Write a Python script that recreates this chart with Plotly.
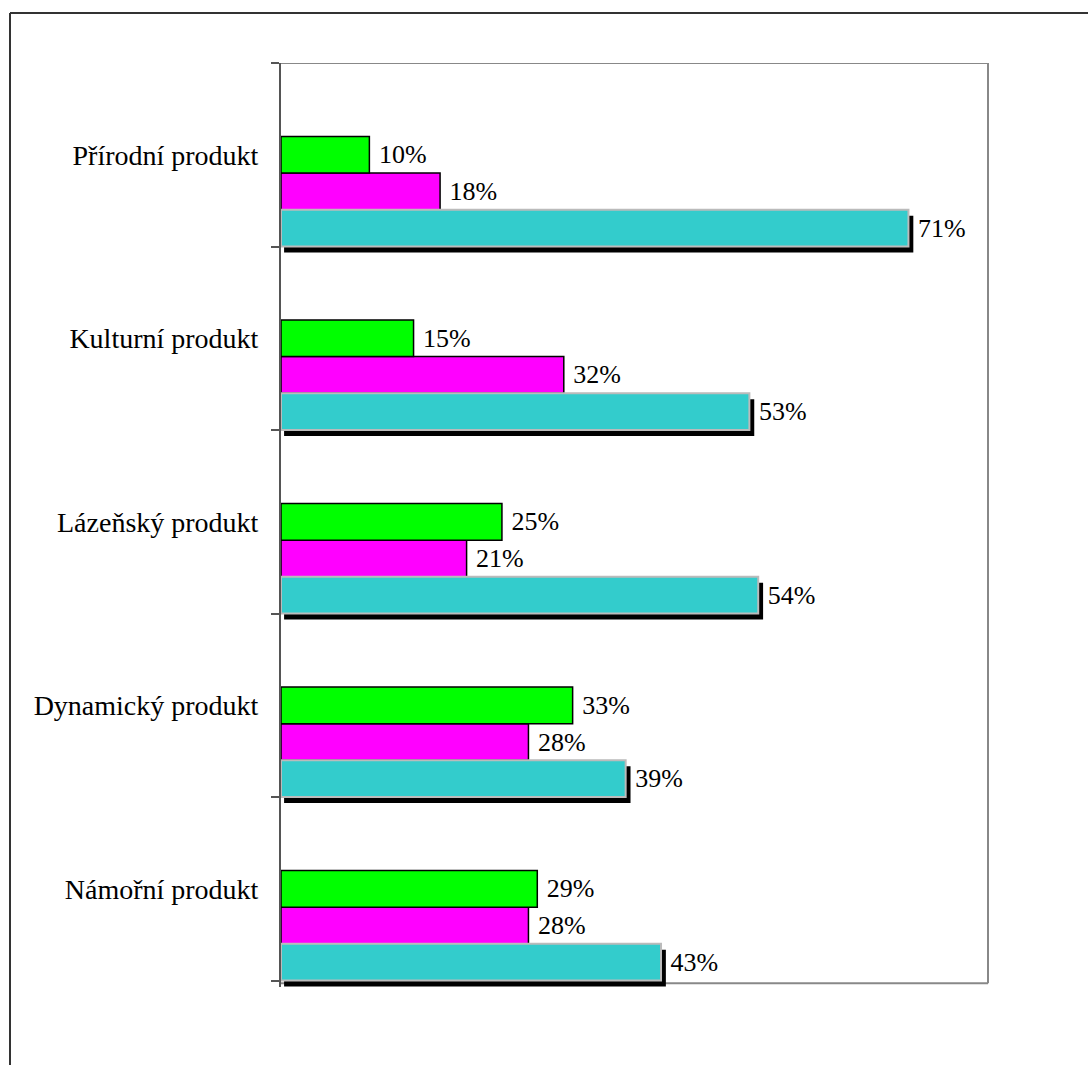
import plotly.graph_objects as go

categories = ["Přírodní produkt", "Kulturní produkt", "Lázeňský produkt",
              "Dynamický produkt", "Námořní produkt"]
green_vals = [10, 15, 25, 33, 29]
magenta_vals = [18, 32, 21, 28, 28]
cyan_vals = [71, 53, 54, 39, 43]

W, H = 1088, 1065
L, R, T, B = 281, 100, 63, 78
FONT = "Liberation Serif, Times New Roman, serif"
FS = 26
FS_CAT = 28

pos = list(range(len(categories)))
bw = 0.2
SDX = 0.55   # shadow offset in x (percent units)
SDY = 0.032  # shadow offset in y (category units)

fig = go.Figure()
fig.add_trace(go.Bar(
    y=[p + 0.2 for p in pos], x=magenta_vals, orientation="h", width=bw,
    marker=dict(color="#FF00FF", line=dict(color="black", width=1.5)),
    texttemplate=" %{x}%", textposition="outside", constraintext="none",
    textfont=dict(family=FONT, size=FS, color="black"), cliponaxis=False,
    showlegend=False))
fig.add_trace(go.Bar(
    y=[p for p in pos], x=green_vals, orientation="h", width=bw,
    marker=dict(color="#00FF00", line=dict(color="black", width=1.5)),
    texttemplate=" %{x}%", textposition="outside", constraintext="none",
    textfont=dict(family=FONT, size=FS, color="black"), cliponaxis=False,
    showlegend=False))
# shadow behind cyan bars
fig.add_trace(go.Bar(
    y=[p + 0.4 + SDY for p in pos], x=[v + SDX - 0.35 for v in cyan_vals],
    base=0.35, orientation="h", width=bw,
    marker=dict(color="black", line=dict(width=0)),
    hoverinfo="skip", showlegend=False))
fig.add_trace(go.Bar(
    y=[p + 0.4 for p in pos], x=cyan_vals, orientation="h", width=bw,
    marker=dict(color="#33CCCC", line=dict(color="#BBBBBB", width=2)),
    texttemplate=" %{x}%", textposition="outside", constraintext="none",
    textfont=dict(family=FONT, size=FS, color="black"), cliponaxis=False,
    showlegend=False))

fig.update_layout(
    width=W, height=H, barmode="overlay",
    margin=dict(l=L, r=R, t=T, b=B, autoexpand=False),
    paper_bgcolor="white", plot_bgcolor="white",
    font=dict(family=FONT, size=FS, color="black"),
    xaxis=dict(range=[0, 80], showgrid=False, zeroline=False, showline=False,
               showticklabels=False, ticks=""),
    yaxis=dict(range=[4.535, -0.5], showgrid=False, zeroline=False,
               showline=True, linecolor="#555555", linewidth=2,
               tickvals=pos, ticktext=categories, ticks="",
               ticklabelstandoff=15,
               tickfont=dict(family=FONT, size=FS_CAT, color="black"),
               minor=dict(ticks="outside", tick0=-0.5, dtick=1, ticklen=8,
                          tickcolor="#555555", tickwidth=2, showgrid=False)),
    shapes=[
        # plot area border (top, right, bottom)
        dict(type="line", xref="paper", yref="y", x0=0, x1=1, y0=-0.5, y1=-0.5,
             line=dict(color="#888888", width=2)),
        dict(type="line", xref="paper", yref="y", x0=1, x1=1, y0=-0.5, y1=4.515,
             line=dict(color="#888888", width=2)),
        dict(type="line", xref="paper", yref="y", x0=0, x1=1, y0=4.515, y1=4.515,
             line=dict(color="#888888", width=2), layer="below"),
        # outer chart frame
        dict(type="line", xref="paper", yref="paper",
             x0=(10 - L) / (W - L - R), x1=(W + 5 - L) / (W - L - R),
             y0=(H - B - 13) / (H - T - B), y1=(H - B - 13) / (H - T - B),
             line=dict(color="#333333", width=2)),
        dict(type="line", xref="paper", yref="paper",
             x0=(10 - L) / (W - L - R), x1=(10 - L) / (W - L - R),
             y0=(H - B - 13) / (H - T - B), y1=(H - B - H - 5) / (H - T - B),
             line=dict(color="#333333", width=2)),
    ],
)

fig.write_html("out.html")
